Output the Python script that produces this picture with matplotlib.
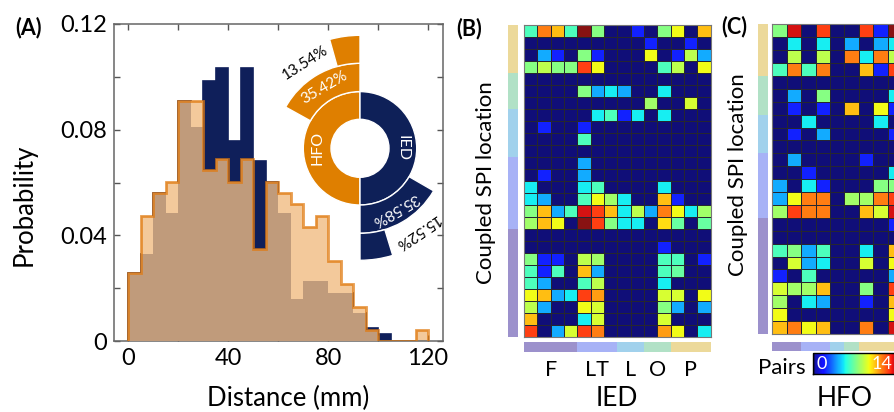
import numpy as np
import matplotlib
matplotlib.use('Agg')
import matplotlib.pyplot as plt
from matplotlib.patches import Wedge
from matplotlib.colors import ListedColormap

plt.rcParams['font.family'] = ['Lato', 'DejaVu Sans']

# ---------------- data ----------------
# Panel A: distance histogram (5 mm bins, 0..120 mm)
bin_edges_mm = np.arange(0, 125, 5)
ied_prob = [0.0256, 0.0329, 0.0562, 0.0483, 0.0910, 0.0811, 0.0984, 0.1032,
            0.0757, 0.1032, 0.0681, 0.0603, 0.0483, 0.0158, 0.0227, 0.0227,
            0.0180, 0.0180, 0.0105, 0.0050, 0.0025, 0.0, 0.0, 0.0]
hfo_prob = [0.0256, 0.0473, 0.0562, 0.0603, 0.0910, 0.0910, 0.0647, 0.0689,
            0.0603, 0.0689, 0.0347, 0.0603, 0.0562, 0.0519, 0.0430, 0.0473,
            0.0304, 0.0216, 0.0130, 0.0042, 0.0, 0.0, 0.0, 0.0042]

# Panel A inset (sunburst)
inset_groups = ['HFO', 'IED']
ring2_pct = [35.42, 35.58]
ring3_pct = [13.54, 15.52]
ring2_span_deg = [61, 60]      # angular size
ring3_span_deg = [15.6, 17.0]

# Panels B/C
regions = ['F', 'LT', 'L', 'O', 'P']
region_colors = ['#9c91cc', '#a7b2f6', '#a1d1ec', '#b1e1c6', '#ecd99a']
ied_cols_per_region = [4, 3, 2, 2, 3]
ied_rows_per_region = [9, 6, 4, 3, 4]
hfo_cols_per_region = [2, 2, 1, 1, 3]
hfo_rows_per_region = [9, 5, 3, 3, 4]

ied_pairs = [
    [6, 11, 10, 6, 14, 7, 0, 0, 2, 0, 7, 9, 0, 10],
    [0, 0, 0, 0, 0, 0, 0, 0, 0, 2, 0, 0, 2, 0],
    [0, 4, 2, 0, 7, 2, 0, 0, 0, 9, 0, 2, 8, 4],
    [7, 8, 7, 7, 12, 9, 0, 0, 0, 0, 6, 8, 0, 9],
    [0, 0, 0, 0, 0, 0, 0, 0, 0, 0, 0, 0, 0, 0],
    [0, 0, 0, 0, 7, 4, 5, 4, 0, 0, 5, 0, 0, 0],
    [0, 0, 0, 0, 0, 0, 0, 0, 0, 7.5, 0, 0, 8.5, 0],
    [0, 0, 0, 0, 0, 5, 6, 2, 5, 0, 5, 0, 0, 0],
    [0, 2, 0, 0, 2, 0, 0, 0, 0, 0, 0, 0, 0, 0],
    [0, 0, 0, 0, 6, 0, 0, 0, 0, 0, 0, 0, 0, 0],
    [0, 0, 0, 0, 0, 0, 0, 0, 0, 0, 0, 0, 0, 0],
    [0, 0, 0, 0, 4, 0, 0, 0, 0, 0, 0, 0, 0, 0],
    [0, 2, 0, 0, 4, 0, 0, 0, 0, 0, 0, 0, 0, 0],
    [5, 0, 0, 0, 5, 6, 0, 0, 0, 0, 5, 0, 0, 0],
    [5, 4, 0, 0, 6, 9, 7.5, 5, 0, 0, 10, 2, 0, 0],
    [7, 10, 4, 6, 13, 12, 10, 5, 8, 4, 11, 9, 5, 7.5],
    [7.5, 10, 9, 0, 14, 12, 7, 5, 5, 0, 9.5, 6.5, 0, 6.5],
    [0, 0, 0, 0, 0, 0, 0, 0, 0, 0, 0, 0, 0, 0],
    [0, 0, 0, 0, 0, 0, 0, 0, 0, 0, 2, 0, 0, 0],
    [7, 2, 2, 0, 8, 7.5, 0, 0, 0, 0, 6, 6, 0, 2],
    [6, 2, 6, 0, 10, 4, 0, 0, 0, 0, 6, 6.5, 0, 0],
    [6, 4, 0, 0, 6, 8, 0, 0, 0, 0, 5, 0, 0, 0],
    [9, 10, 4, 5, 12, 10.5, 0, 0, 0, 0, 8.5, 8.5, 0, 9],
    [8, 4, 0, 0, 9, 8.5, 0, 0, 0, 0, 7, 4, 0, 4],
    [10, 0, 0, 0, 5, 8.5, 0, 0, 0, 0, 8.5, 0, 0, 0],
    [12, 0, 4, 8.5, 12, 11, 0, 0, 0, 0, 10.5, 9, 0, 5],
]

hfo_pairs = [
    [7, 13, 0, 12, 0, 0, 12, 2, 14],
    [0, 5, 0, 5, 0, 4, 0, 4, 5],
    [0, 8, 0, 8, 0, 11, 5, 11, 8],
    [6, 11, 6, 11, 0, 0, 10, 2, 12],
    [0, 0, 0, 0, 0, 0, 0, 0, 0],
    [0, 4, 0, 7, 0, 0, 0, 0, 5],
    [0, 2, 0, 2, 0, 10, 0, 9, 2],
    [0, 0, 5, 0, 0, 0, 0, 5, 0],
    [0, 2, 0, 4, 0, 0, 0, 0, 2],
    [0, 0, 0, 0, 0, 0, 0, 0, 0],
    [0, 4, 0, 0, 0, 0, 2, 0, 0],
    [0, 0, 2, 0, 0, 0, 0, 0, 5],
    [4, 0, 5, 2, 0, 0, 0, 7, 7],
    [4, 9, 11, 11, 0, 7.5, 7.5, 11, 12],
    [7.5, 12, 11, 11, 0, 0, 10, 8.5, 13],
    [0, 0, 0, 0, 0, 0, 0, 0, 2],
    [0, 0, 0, 0, 0, 0, 0, 0, 0],
    [6, 7, 4, 6, 0, 0, 5, 0, 10],
    [0, 8.5, 4, 5, 0, 0, 8.5, 0, 9],
    [2, 0, 6, 0, 0, 0, 0, 0, 4],
    [8.5, 7.5, 7.5, 10, 0, 0, 7, 0, 12],
    [7.5, 0, 5, 4, 0, 0, 2, 0, 10],
    [9, 0, 0, 0, 0, 0, 0, 0, 9],
    [10, 11, 9, 10, 0, 0, 11, 0, 13],
]
pairs_max = 14

# ---------------- styling ----------------
W, H = 894, 412
navy = '#0f1f5a'
peach = '#f3c99b'
tan = '#c09b7b'
orange_line = '#e07a10'
donut_orange = '#df7f00'
donut_navy = '#0e2058'

jet = plt.get_cmap('jet')(np.linspace(0, 1, 256))[:, :3]
jet = jet * 0.93 + 0.07
jet[:8] = np.array([16, 14, 120]) / 255.0
cmap = ListedColormap(jet)

fig = plt.figure(figsize=(W / 100, H / 100), dpi=100)


def px_axes(x0, y0, x1, y1):
    return fig.add_axes([x0 / W, 1 - y1 / H, (x1 - x0) / W, (y1 - y0) / H])


def px_text(x, y, s, **kw):
    return fig.text(x / W, 1 - y / H, s, **kw)


# ---------------- Panel A ----------------
ax = px_axes(114, 24, 443, 341)
edges = bin_edges_mm
ied = np.array(ied_prob)
hfo = np.array(hfo_prob)
ax.stairs(ied, edges, fill=True, color=navy, zorder=1)
ax.stairs(ied, edges, color=navy, lw=1.2, zorder=1)
ax.stairs(hfo, edges, fill=True, color=peach, zorder=2)
ax.stairs(np.minimum(ied, hfo), edges, fill=True, color=tan, zorder=3)
ax.stairs(hfo, edges, baseline=0, color=orange_line, lw=2.0, alpha=0.75, zorder=4)
ax.set_xlim(-5.8, 126)
ax.set_ylim(0, 0.12)
ax.set_xticks([0, 40, 80, 120])
ax.set_xticks([20, 60, 100], minor=True)
ax.set_yticks([0, 0.04, 0.08, 0.12])
ax.set_yticklabels(['0', '0.04', '0.08', '0.12'])
ax.set_yticks([0.02, 0.06, 0.10], minor=True)
ax.tick_params(which='both', direction='in', top=True, right=True, length=4,
               width=1, color='#555555', labelsize=17, pad=5)
for s in ax.spines.values():
    s.set_color('#666666')
    s.set_linewidth(1.1)

px_text(24, 205, 'Probability', rotation=90, ha='center', va='center', fontsize=18.5)
px_text(288, 398, 'Distance (mm)', ha='center', va='center', fontsize=18.5)
px_text(29, 28, '(A)', ha='center', va='center', fontsize=15.5, fontweight='bold')

# inset sunburst
cx, cy = 360, 148.3
R = 130
dax = px_axes(cx - R, cy - R, cx + R, cy + R)
dax.set_xlim(-R, R)
dax.set_ylim(-R, R)
dax.axis('off')
r0, r1, r2, r3 = 29, 56.7, 85, 113
cols = [donut_orange, donut_navy]
starts = [90, 270]
for i in range(2):
    dax.add_patch(Wedge((0, 0), r1, starts[i], starts[i] + 180, width=r1 - r0,
                        fc=cols[i], ec='white', lw=1))
    dax.add_patch(Wedge((0, 0), r2, starts[i], starts[i] + ring2_span_deg[i],
                        width=r2 - r1, fc=cols[i], ec='white', lw=1))
    dax.add_patch(Wedge((0, 0), r3 - i, starts[i], starts[i] + ring3_span_deg[i],
                        width=r3 - i - r2, fc=cols[i], ec='white', lw=1))

rm = (r0 + r1) / 2
dax.text(-rm, 0, inset_groups[0], rotation=90, color='white', ha='center',
         va='center', fontsize=11.5)
dax.text(rm, 0, inset_groups[1], rotation=-90, color='white', ha='center',
         va='center', fontsize=11.5)
for i in range(2):
    th = starts[i] + ring2_span_deg[i] / 2
    rr = (r1 + r2) / 2
    dax.text(rr * np.cos(np.radians(th)), rr * np.sin(np.radians(th)),
             f'{ring2_pct[i]:.2f}%', rotation=th - 90, rotation_mode='anchor',
             color='white', ha='center', va='center', fontsize=11)
    th3 = starts[i] + ring3_span_deg[i] + 17
    rr3 = (r2 + r3) / 2 + 2
    dax.text(rr3 * np.cos(np.radians(th3)), rr3 * np.sin(np.radians(th3)),
             f'{ring3_pct[i]:.2f}%', rotation=th3 - 90, rotation_mode='anchor',
             color='black', ha='center', va='center', fontsize=11)


# ---------------- Panels B / C ----------------
def heat_panel(mat, rows_per_region, cols_per_region, hx0, hx1, hy0, hy1,
               bar_x0, bar_x1, bot_y0, bot_y1):
    M = np.array(mat, dtype=float)
    nr, nc = M.shape
    hax = px_axes(hx0, hy0, hx1, hy1)
    mesh = hax.pcolormesh(M, cmap=cmap, vmin=0, vmax=pairs_max,
                          edgecolors='#262630', linewidth=0.6)
    hax.set_xlim(0, nc)
    hax.set_ylim(nr, 0)
    hax.set_xticks([])
    hax.set_yticks([])
    for s in hax.spines.values():
        s.set_color('#777777')
        s.set_linewidth(0.8)
    # left region bar
    lax = px_axes(bar_x0, hy0, bar_x1, hy1)
    bottom = 0
    for n, c in zip(rows_per_region, region_colors):
        lax.bar(0, n, bottom=bottom, width=1, color=c)
        bottom += n
    lax.set_xlim(-0.5, 0.5)
    lax.set_ylim(0, nr)
    lax.axis('off')
    # bottom region bar
    bax = px_axes(hx0, bot_y0, hx1, bot_y1)
    left = 0
    centers = []
    for n, c in zip(cols_per_region, region_colors):
        bax.barh(0, n, left=left, height=1, color=c)
        centers.append(left + n / 2)
        left += n
    bax.set_xlim(0, nc)
    bax.set_ylim(-0.5, 0.5)
    bax.axis('off')
    return mesh, bax, centers


# Panel B
meshB, baxB, centersB = heat_panel(ied_pairs, ied_rows_per_region, ied_cols_per_region,
                                   524, 710.7, 25, 336.7, 508.3, 518.3, 341.7, 351.7)
for name, cxr in zip(regions, centersB):
    x_px = 524 + cxr * (710.7 - 524) / len(ied_pairs[0])
    px_text(x_px, 370, name, ha='center', va='center', fontsize=15.5)
px_text(617, 398, 'IED', ha='center', va='center', fontsize=19)
px_text(486, 183, 'Coupled SPI location', rotation=90, ha='center', va='center',
        fontsize=16)
px_text(469, 29, '(B)', ha='center', va='center', fontsize=15.5, fontweight='bold')

# Panel C
cw = 14.4
meshC, baxC, centersC = heat_panel(hfo_pairs, hfo_rows_per_region, hfo_cols_per_region,
                                   772.3, 772.3 + cw * len(hfo_pairs[0]), 24.3, 334,
                                   758, 767.5, 341.7, 350.7)
px_text(845, 398, 'HFO', ha='center', va='center', fontsize=19)
px_text(738, 175, 'Coupled SPI location', rotation=90, ha='center', va='center',
        fontsize=16)
px_text(734, 27, '(C)', ha='center', va='center', fontsize=15.5, fontweight='bold')

cax = px_axes(812.7, 353.3, 900.7, 374)
cb = fig.colorbar(meshC, cax=cax, orientation='horizontal')
cb.set_ticks([])
cb.outline.set_edgecolor('black')
cb.outline.set_linewidth(1)
cax.text(0.04, 0.5, '0', transform=cax.transAxes, color='white', ha='left',
         va='center', fontsize=13)
cax.text(0.905, 0.5, str(pairs_max), transform=cax.transAxes, color='white',
         ha='right', va='center', fontsize=13)
px_text(806, 368, 'Pairs', ha='right', va='center', fontsize=16)

fig.savefig('out.png', dpi=100)
